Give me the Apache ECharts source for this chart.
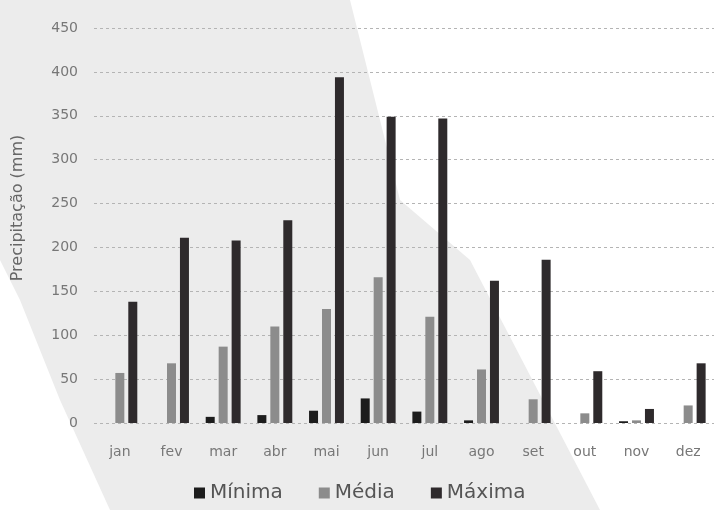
<!DOCTYPE html>
<html><head><meta charset="utf-8">
<script src="https://cdn.jsdelivr.net/npm/echarts@6/dist/echarts.min.js"></script>
<style>html,body{margin:0;padding:0;background:#fff}#c{width:714px;height:510px}</style>
</head><body><div id="c"></div>
<script>
const months = ['jan','fev','mar','abr','mai','jun','jul','ago','set','out','nov','dez'];
const minima = [0, 0, 7, 9, 14, 28, 13, 3, 0, 0, 2, 0];
const media  = [57, 68, 87, 110, 130, 166, 121, 61, 27, 11, 3, 20];
const maxima = [138, 211, 208, 231, 394, 349, 347, 162, 186, 59, 16, 68];
const yTicks = {min: 0, max: 450, interval: 50};
const yTitle = 'Precipitação (mm)';
const font = '"DejaVu Sans", sans-serif';

const chart = echarts.init(document.getElementById('c'));
chart.setOption({
  animation: false,
  backgroundColor: '#fff',
  graphic: [{
    type: 'polygon', z: -10, silent: true,
    shape: {points: [[0,0],[350,0],[400,200],[470,260],[600,510],[110,510],[60,400],[20,300],[0,260]]},
    style: {fill: '#ececec'}
  }, {
    type: 'text', x: 18, y: 208, rotation: Math.PI / 2, silent: true,
    style: {text: yTitle, font: '16px "DejaVu Sans", sans-serif', fill: '#666', align: 'center', verticalAlign: 'middle'}
  }],
  grid: {left: 94, right: 0, top: 28, bottom: 87},
  legend: {
    bottom: 2, left: 189, itemWidth: 11, itemHeight: 11, itemGap: 36,
    icon: 'rect',
    textStyle: {fontFamily: font, fontSize: 20, color: '#555'},
    data: ['Mínima','Média','Máxima']
  },
  xAxis: {
    type: 'category', data: months,
    axisLine: {show: false}, axisTick: {show: false},
    axisLabel: {fontFamily: font, fontSize: 14, color: '#777', margin: 22}
  },
  yAxis: {
    type: 'value', min: yTicks.min, max: yTicks.max, interval: yTicks.interval,
    axisLine: {show: false}, axisTick: {show: false},
    axisLabel: {fontFamily: font, fontSize: 14, color: '#777', margin: 16},
    splitLine: {lineStyle: {color: '#b4b4b4', type: [3, 3], width: 1}}
  },
  series: [
    {name: 'Mínima', type: 'bar', data: minima, barWidth: 9, barGap: '44%', itemStyle: {color: '#1c1c1c'}},
    {name: 'Média', type: 'bar', data: media, barWidth: 9, barGap: '44%', itemStyle: {color: '#8c8c8c'}},
    {name: 'Máxima', type: 'bar', data: maxima, barWidth: 9, barGap: '44%', itemStyle: {color: '#2e2a2c'}}
  ]
});
</script></body></html>
